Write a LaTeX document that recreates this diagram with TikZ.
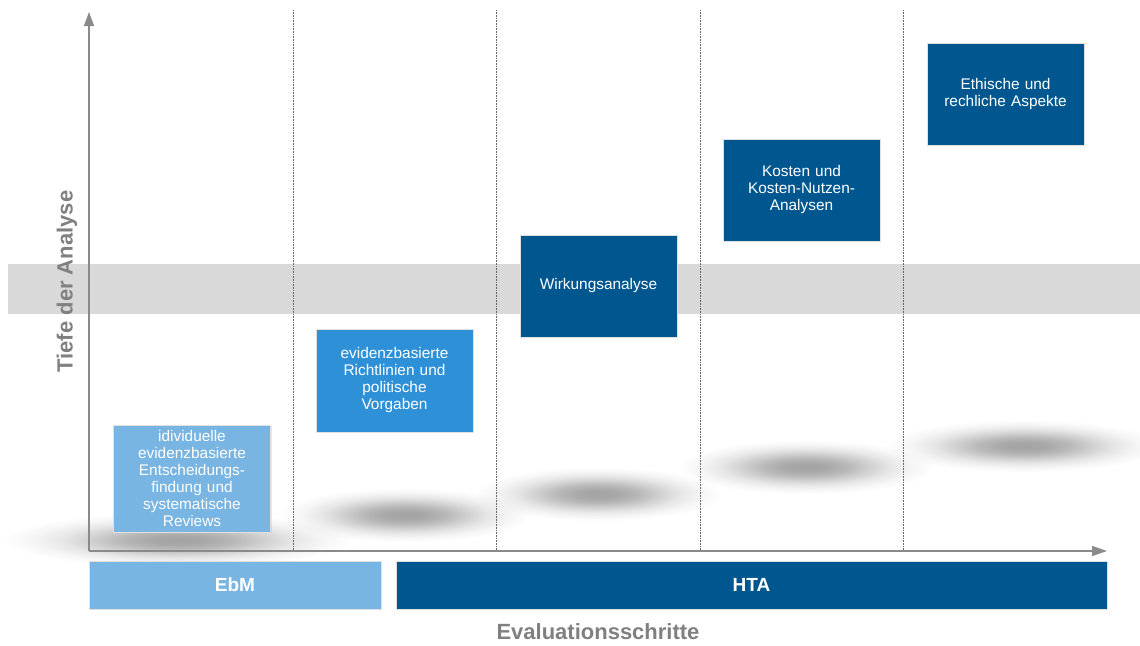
\documentclass[tikz,border=0pt]{standalone}
\usepackage{fontspec}
\setmainfont{Liberation Sans}
\usetikzlibrary{shadows,fadings,arrows.meta}
\definecolor{ebmblue}{HTML}{78B5E2}
\definecolor{midblue}{HTML}{2E91D8}
\definecolor{darkblue}{HTML}{005790}
\definecolor{bandgray}{HTML}{D9D9D9}
\definecolor{axisgray}{HTML}{8A8A8A}
\definecolor{labelgray}{HTML}{808080}
\pgfdeclareradialshading{softshadowshade}{\pgfpoint{0bp}{0bp}}{color(0bp)=(white); color(4bp)=(white!94!black); color(8bp)=(white!76!black); color(12bp)=(white!50!black); color(16bp)=(white!26!black); color(20bp)=(white!10!black); color(24bp)=(black); color(50bp)=(black)}
\pgfdeclarefading{softshadow}{\pgfuseshading{softshadowshade}}
\tikzset{
  stagebox/.style={draw=black!12, line width=0.8pt, minimum width=157pt, minimum height=102pt,
    inner sep=0pt, text width=150pt, align=center, text=white,
    font=\fontsize{15.4}{17}\selectfont,
    drop shadow={opacity=0.18, shadow xshift=1.2pt, shadow yshift=-1.2pt}},
  barbox/.style={draw=black!12, line width=0.8pt, minimum height=48pt, inner sep=0pt,
    text=white, font=\fontsize{19}{22}\selectfont\bfseries,
    drop shadow={opacity=0.15, shadow xshift=1.2pt, shadow yshift=-1.2pt}},
  axisline/.style={draw=axisgray, line width=1.4pt},
  stepline/.style={draw=black!60, line width=0.6pt, dash pattern=on 0.8pt off 0.8pt},
  blurshadow/.style={fill=black!36, path fading=softshadow},
  axislabel/.style={text=labelgray, font=\fontsize{22}{26}\selectfont\bfseries}
}
\begin{document}
\begin{tikzpicture}[x=1pt,y=-1pt]
\fill[white] (0,0) rectangle (1140,645);
\useasboundingbox (0,0) rectangle (1140,645);
% band
\fill[bandgray] (8,264) rectangle (1140,314);
% blurred shadows
\fill[blurshadow] (178,540) ellipse [x radius=180pt, y radius=28pt];
\fill[blurshadow] (405,515) ellipse [x radius=130pt, y radius=28pt];
\fill[blurshadow] (598,494) ellipse [x radius=128pt, y radius=28pt];
\fill[blurshadow] (806,467) ellipse [x radius=132pt, y radius=28pt];
\fill[blurshadow] (1024,446) ellipse [x radius=142pt, y radius=27pt];
% step separators
\foreach \xx/\nm in {293/s1,496/s2,700/s3,903/s4}{
  \coordinate (\nm top) at (\xx,10);
  \coordinate (\nm bot) at (\xx,550);
  \draw[stepline] (\nm top) -- (\nm bot);
}
% axes
\coordinate (origin) at (89,551);
\coordinate (ytip) at (89,12);
\coordinate (xtip) at (1107,551);
\draw[axisline, -{Triangle[length=14pt,width=10pt]}] (origin) -- (ytip);
\draw[axisline, -{Triangle[length=15pt,width=10pt]}] (origin) -- (xtip);
% boxes
\node[stagebox, fill=ebmblue, minimum height=107pt] (b1) at (192,478.5)
  {idividuelle\\evidenzbasierte\\Entscheidungs-\\findung und\\systematische\\Reviews};
\node[stagebox, fill=midblue, minimum height=103pt] (b2) at (394.5,380.5)
  {evidenzbasierte\\Richtlinien und\\politische\\Vorgaben};
\node[stagebox, fill=darkblue] (b3) at (598.5,286) {Wirkungsanalyse\\[3pt]};
\node[stagebox, fill=darkblue] (b4) at (801.5,190) {Kosten und\\Kosten-Nutzen-\\Analysen};
\node[stagebox, fill=darkblue] (b5) at (1005.5,94) {Ethische und\\rechliche Aspekte};
% bars
\node[barbox, fill=ebmblue, minimum width=292pt] (ebm) at (235,585) {EbM};
\node[barbox, fill=darkblue, minimum width=711pt] (hta) at (751.5,585) {HTA};
% axis labels
\node[axislabel, rotate=90] (ylab) at (67,281.5) {Tiefe der Analyse};
\node[axislabel] (xlab) at (598,632) {Evaluationsschritte};
\end{tikzpicture}
\end{document}
